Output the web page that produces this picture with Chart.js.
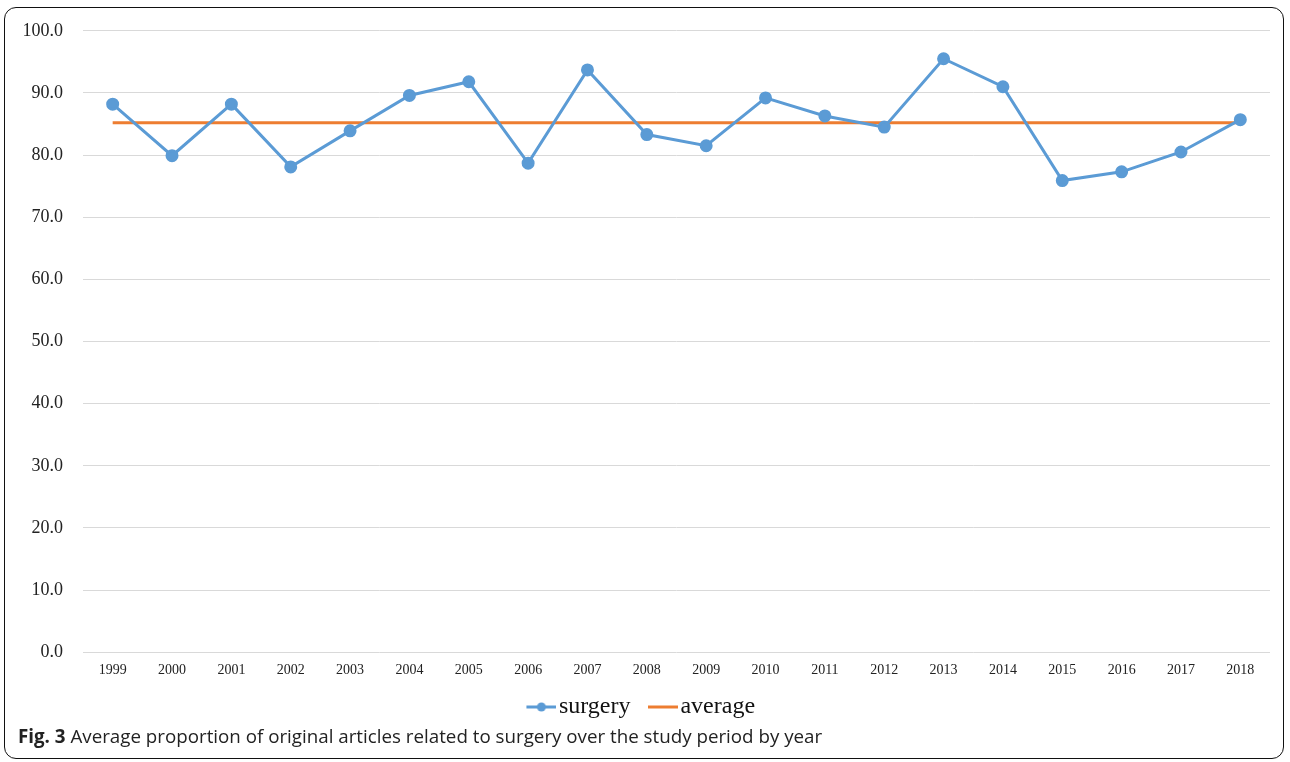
<!DOCTYPE html>
<html lang="en">
<head>
<meta charset="UTF-8">
<title>Fig. 3 surgery proportion</title>
<script src="https://cdn.jsdelivr.net/npm/chart.js"></script>
<style>
    body { margin: 0; background: #fff; }
    #frame {
        position: absolute; left: 4px; top: 7px; width: 1280px; height: 752px;
        border: 1.5px solid #111; border-radius: 12px; box-sizing: border-box;
    }
    #wrap { position: absolute; left: 0; top: 0; width: 1290px; height: 729px; }
    #caption {
        position: absolute; left: 18px; top: 723px;
        font-family: "Open Sans", sans-serif; font-size: 18.75px; color: #222;
    }
</style>
</head>
<body>
<div id="frame"></div>
<div id="wrap"><canvas id="chart"></canvas></div>
<div id="caption"><b>Fig. 3</b> Average proportion of original articles related to surgery over the study period by year</div>

<script>
    const years = ['1999', '2000', '2001', '2002', '2003', '2004', '2005', '2006', '2007', '2008',
        '2009', '2010', '2011', '2012', '2013', '2014', '2015', '2016', '2017', '2018'];
    const surgery = [88.2, 79.9, 88.2, 78.1, 83.9, 89.6, 91.8, 78.7, 93.7, 83.3,
        81.5, 89.2, 86.3, 84.5, 95.5, 91.0, 75.9, 77.3, 80.5, 85.7];
    const averageValue = 85.2;
    const average = years.map(() => averageValue);

    const BLUE = '#5B9BD5';
    const ORANGE = '#ED7D31';

    // legend marker: short line (with a dot for surgery), drawn in the right 30px
    // so the text sits close to it like in Excel
    function legendIcon(withDot, color) {
        const c = document.createElement('canvas');
        c.width = 51; c.height = 12;
        const g = c.getContext('2d');
        g.strokeStyle = color; g.lineWidth = 3;
        g.beginPath(); g.moveTo(21, 6); g.lineTo(51, 6); g.stroke();
        if (withDot) {
            g.fillStyle = color;
            g.beginPath(); g.arc(36, 6, 4.5, 0, Math.PI * 2); g.fill();
        }
        return c;
    }

    const ctx = document.getElementById('chart').getContext('2d');
    new Chart(ctx, {
        type: 'line',
        data: {
            labels: years,
            datasets: [
                {
                    label: 'surgery',
                    data: surgery,
                    borderColor: BLUE,
                    backgroundColor: BLUE,
                    borderWidth: 3,
                    pointRadius: 5,
                    pointHoverRadius: 5,
                    pointStyle: 'circle',
                    tension: 0
                },
                {
                    label: 'average',
                    data: average,
                    borderColor: ORANGE,
                    backgroundColor: ORANGE,
                    borderWidth: 3,
                    pointRadius: 0,
                    tension: 0
                }
            ]
        },
        options: {
            responsive: true,
            maintainAspectRatio: false,
            animation: false,
            layout: { padding: { left: 0, right: 20, top: 22, bottom: 0 } },
            scales: {
                y: {
                    min: 0, max: 100,
                    ticks: {
                        stepSize: 10,
                        padding: 20,
                        color: '#222',
                        font: { family: '"Liberation Serif", serif', size: 18 },
                        callback: v => v.toFixed(1)
                    },
                    grid: { color: '#d9d9d9', lineWidth: 1, drawTicks: false },
                    border: { display: false },
                    afterFit: s => { s.width = 83; }
                },
                x: {
                    offset: true,
                    ticks: {
                        padding: 10,
                        color: '#222',
                        maxRotation: 0,
                        font: { family: '"Liberation Serif", serif', size: 14 }
                    },
                    grid: { display: false, drawTicks: false },
                    border: { display: false }
                }
            },
            plugins: {
                legend: {
                    position: 'bottom',
                    labels: {
                        usePointStyle: true,
                        pointStyleWidth: 32,
                        padding: 6,
                        color: '#111',
                        font: { family: '"Liberation Serif", serif', size: 24 },
                        generateLabels: chart => chart.data.datasets.map((d, i) => ({
                            text: d.label,
                            pointStyle: legendIcon(i === 0, d.borderColor),
                            fillStyle: d.borderColor,
                            strokeStyle: d.borderColor,
                            lineWidth: 0,
                            fontColor: '#111',
                            datasetIndex: i
                        }))
                    }
                },
                tooltip: { enabled: false }
            }
        }
    });
</script>
</body>
</html>
